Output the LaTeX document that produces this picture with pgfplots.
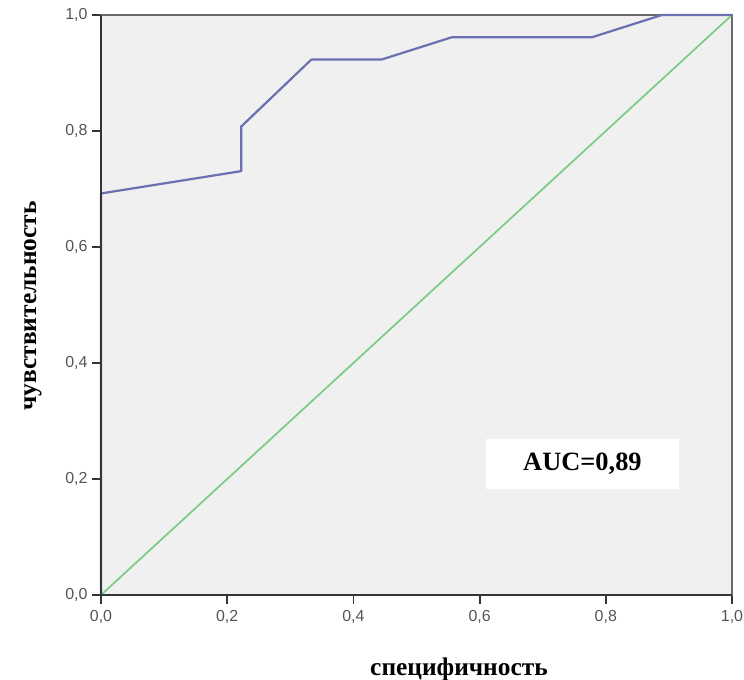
\documentclass[border=0pt]{standalone}
\usepackage{pgfplots}
\pgfplotsset{compat=1.18}
\usepackage{fontspec}
\setmainfont{Liberation Serif}
\newfontfamily\sansf{Liberation Sans}
\definecolor{bgc}{HTML}{F0F0F0}
\definecolor{roc}{HTML}{6A70B0}
\definecolor{diag}{HTML}{78CC84}
\definecolor{frameg}{HTML}{6A6A6A}
\definecolor{framed}{HTML}{353535}
\definecolor{tickc}{HTML}{555555}
\begin{document}
\begin{tikzpicture}
\path[use as bounding box] (-101bp,-85bp) rectangle (643bp,595bp);
\begin{axis}[
  at={(0,0)}, anchor=south west,
  scale only axis, width=631bp, height=580bp,
  xmin=0, xmax=1, ymin=0, ymax=1,
  clip=false,
  axis background/.style={fill=bgc},
  axis line style={draw=frameg, line width=1.8bp},
  xtick={0,0.2,0.4,0.6,0.8,1}, ytick={0,0.2,0.4,0.6,0.8,1},
  xtick pos=bottom, ytick pos=left, tick align=outside,
  major tick length=9bp,
  every tick/.style={draw=framed, line width=1.8bp},
  /pgf/number format/assume math mode=true,
  /pgf/number format/.cd, fixed, fixed zerofill, precision=1, use comma,
  /pgfplots/.cd,
  ticklabel style={font=\sansf\fontsize{16}{16}\selectfont, text=tickc},
  xticklabel style={yshift=-2.5bp},
  yticklabel style={xshift=-1bp},
]
\addplot[diag, line width=1.7bp] coordinates {(0,0) (1,1)};
\addplot[roc, line width=2.2bp, line join=round] coordinates {
(0,0) (0,0.6923) (0.2222,0.7308) (0.2222,0.8077) (0.3333,0.9231) (0.4444,0.9231)
(0.5556,0.9615) (0.7778,0.9615) (0.8889,1) (1,1)};
\draw[framed, line width=2.8bp] (axis cs:0,1) -- (axis cs:0,0) -- (axis cs:1,0);
\fill[white] (axis cs:0.610,0.183) rectangle (axis cs:0.916,0.269);
\node[font=\bfseries\fontsize{26.5}{27}\selectfont] at (axis cs:0.763,0.226) {AUC=0,89};
\end{axis}
\node[rotate=90, font=\bfseries\fontsize{25.5}{26}\selectfont] at (-68bp,289bp) {чувствительность};
\node[anchor=base, font=\bfseries\fontsize{25.5}{26}\selectfont] at (358bp,-80bp) {специфичность};
\end{tikzpicture}
\end{document}
